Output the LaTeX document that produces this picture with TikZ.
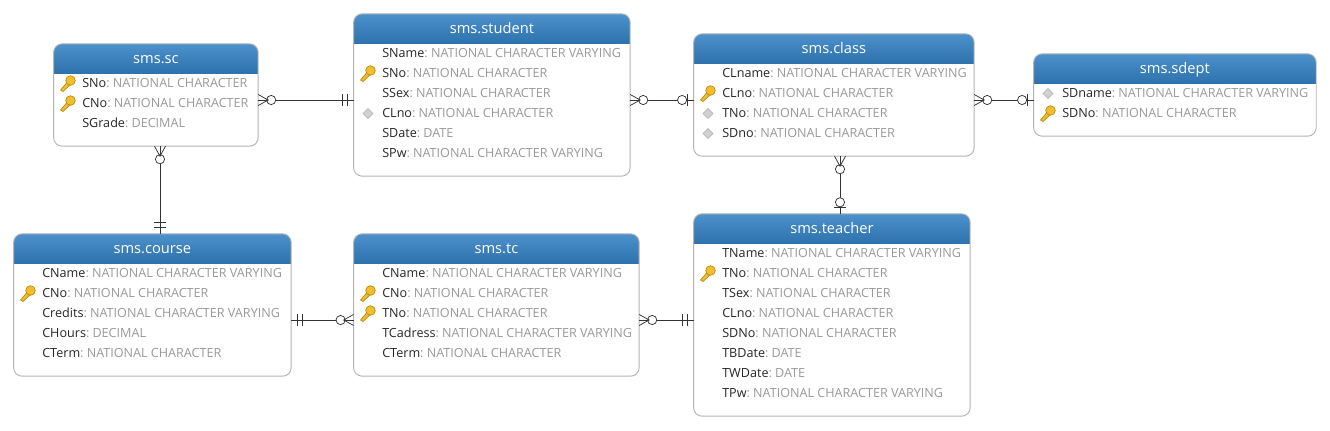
\documentclass[tikz,border=0pt]{standalone}
\usepackage{fontspec}
\setmainfont{Open Sans}
\definecolor{headtop}{HTML}{4C91CB}
\definecolor{headbot}{HTML}{2E72AD}
\definecolor{edgegray}{HTML}{B4B4B4}
\definecolor{typegray}{HTML}{9A9A9A}
\definecolor{keygold}{HTML}{F2BE2C}
\definecolor{keydark}{HTML}{B98A14}
\definecolor{linkgray}{HTML}{333333}
\tikzset{
    tablebox/.style={fill=white,outer sep=0pt,inner sep=0pt,anchor=north west},
    tableedge/.style={draw=edgegray,rounded corners=6.5pt,line width=0.7pt},
    tabletitle/.style={text=white,font=\fontsize{11}{13}\selectfont,inner sep=0pt,anchor=base},
    colname/.style={text=black!85,font=\fontsize{9.45}{12}\selectfont,inner sep=0pt,anchor=base west},
    link/.style={draw=linkgray,line width=0.55pt},
    crowopt/.pic={
        \draw[link,fill=white] (13,0) circle (4.6);
        \draw[link] (0,-5.5) -- (10,0) -- (0,5.5);
    },
    oneopt/.pic={
        \draw[link,fill=white] (11.5,0) circle (4.6);
        \draw[link] (6,-6) -- (6,6);
    },
    onlyone/.pic={
        \draw[link] (6,-6) -- (6,6);
        \draw[link] (11,-6) -- (11,6);
    },
    keyicon/.pic={
        \draw[keydark,fill=keygold,line width=0.5pt] (-7.5,6.5) -- (-5,8) -- (1.5,2) -- (-1,-1) -- cycle;
        \draw[keydark,fill=keygold,line width=0.5pt] (2.5,-3) circle (4.8);
    },
    fkicon/.pic={
        \fill[black!18,draw=black!32,line width=0.4pt] (-5,0) -- (0,-5) -- (5,0) -- (0,5) -- cycle;
    },
    noicon/.pic={},
}
% name, left, top, width, height, title
\newcommand{\dbtable}[6]{
    \node[tablebox,minimum width=#4*0.75pt,minimum height=#5*0.75pt] (#1) at (#2,#3) {};
    \begin{scope}
        \clip[rounded corners=6.5pt] (#1.north west) rectangle (#1.south east);
        \shade[top color=headtop,bottom color=headbot] (#1.north west) rectangle (#2+#4,#3+30);
    \end{scope}
    \draw[tableedge] (#1.north west) rectangle (#1.south east);
    \node[tabletitle] (#1-title) at (#2+#4/2,#3+20) {#6};
}
% table, left, top, rows
\newcommand{\dbrows}[4]{
    \foreach \col/\typ/\icon [count=\i from 0] in {#4} {
        \node[colname] (#1-\col) at (#2+28,#3+43.5+20*\i) {\col{\color{typegray}:\hspace{2.4pt}\typ}};
        \ifnum\pdfstrcmp{\icon}{noicon}=0\else
        \pic at (#2+14,#3+39.5+20*\i) {\icon};
        \fi
    }
}
\begin{document}
\begin{tikzpicture}[x=0.75pt,y=-0.75pt]
    \useasboundingbox (0,0) rectangle (1330,430);
    \fill[white] (0,0) rectangle (1330,430);

    \dbtable{sc}{53.6}{43.8}{204.6}{102.4}{sms.sc}
    \dbrows{sc}{54}{44}{SNo/NATIONAL CHARACTER/keyicon,CNo/NATIONAL CHARACTER/keyicon,SGrade/DECIMAL/noicon}

    \dbtable{student}{353.6}{13.8}{276.6}{162.4}{sms.student}
    \dbrows{student}{354}{14}{SName/NATIONAL CHARACTER VARYING/noicon,SNo/NATIONAL CHARACTER/keyicon,SSex/NATIONAL CHARACTER/noicon,CLno/NATIONAL CHARACTER/fkicon,SDate/DATE/noicon,SPw/NATIONAL CHARACTER VARYING/noicon}

    \dbtable{class}{693.6}{33.8}{280.6}{122.4}{sms.class}
    \dbrows{class}{694}{34}{CLname/NATIONAL CHARACTER VARYING/noicon,CLno/NATIONAL CHARACTER/keyicon,TNo/NATIONAL CHARACTER/fkicon,SDno/NATIONAL CHARACTER/fkicon}

    \dbtable{sdept}{1033.6}{53.8}{282.6}{82.4}{sms.sdept}
    \dbrows{sdept}{1034}{54}{SDname/NATIONAL CHARACTER VARYING/fkicon,SDNo/NATIONAL CHARACTER/keyicon}

    \dbtable{course}{13.6}{233.8}{277.6}{142.4}{sms.course}
    \dbrows{course}{14}{234}{CName/NATIONAL CHARACTER VARYING/noicon,CNo/NATIONAL CHARACTER/keyicon,Credits/NATIONAL CHARACTER VARYING/noicon,CHours/DECIMAL/noicon,CTerm/NATIONAL CHARACTER/noicon}

    \dbtable{tc}{353.6}{233.8}{285.6}{142.4}{sms.tc}
    \dbrows{tc}{354}{234}{CName/NATIONAL CHARACTER VARYING/noicon,CNo/NATIONAL CHARACTER/keyicon,TNo/NATIONAL CHARACTER/keyicon,TCadress/NATIONAL CHARACTER VARYING/noicon,CTerm/NATIONAL CHARACTER/noicon}

    \dbtable{teacher}{693.6}{213.8}{276.6}{202.4}{sms.teacher}
    \dbrows{teacher}{694}{214}{TName/NATIONAL CHARACTER VARYING/noicon,TNo/NATIONAL CHARACTER/keyicon,TSex/NATIONAL CHARACTER/noicon,CLno/NATIONAL CHARACTER/noicon,SDNo/NATIONAL CHARACTER/noicon,TBDate/DATE/noicon,TWDate/DATE/noicon,TPw/NATIONAL CHARACTER VARYING/noicon}

    % connector ends on the table borders
    \coordinate (sc-r) at (sc.east |- 0,100);
    \coordinate (student-l) at (student.west |- 0,100);
    \coordinate (student-r) at (student.east |- 0,100);
    \coordinate (class-l) at (class.west |- 0,100);
    \coordinate (class-r) at (class.east |- 0,100);
    \coordinate (sdept-l) at (sdept.west |- 0,100);
    \coordinate (sc-b) at (sc.south -| 160,0);
    \coordinate (course-t) at (course.north -| 160,0);
    \coordinate (class-b) at (class.south -| 840,0);
    \coordinate (teacher-t) at (teacher.north -| 840,0);
    \coordinate (course-r) at (course.east |- 0,320);
    \coordinate (tc-l) at (tc.west |- 0,320);
    \coordinate (tc-r) at (tc.east |- 0,320);
    \coordinate (teacher-l) at (teacher.west |- 0,320);

    \draw[link] (sc-r) -- (student-l);
    \draw[link] (student-r) -- (class-l);
    \draw[link] (class-r) -- (sdept-l);
    \draw[link] (sc-b) -- (course-t);
    \draw[link] (class-b) -- (teacher-t);
    \draw[link] (course-r) -- (tc-l);
    \draw[link] (tc-r) -- (teacher-l);

    \pic at (sc-r) {crowopt};
    \pic[rotate=180] at (student-l) {onlyone};
    \pic at (student-r) {crowopt};
    \pic[rotate=180] at (class-l) {oneopt};
    \pic at (class-r) {crowopt};
    \pic[rotate=180] at (sdept-l) {oneopt};
    \pic[rotate=-90] at (sc-b) {crowopt};
    \pic[rotate=90] at (course-t) {onlyone};
    \pic[rotate=-90] at (class-b) {crowopt};
    \pic[rotate=90] at (teacher-t) {oneopt};
    \pic at (course-r) {onlyone};
    \pic[rotate=180] at (tc-l) {crowopt};
    \pic at (tc-r) {crowopt};
    \pic[rotate=180] at (teacher-l) {onlyone};
\end{tikzpicture}
\end{document}
